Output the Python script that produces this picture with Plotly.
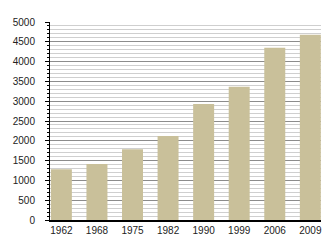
import plotly.graph_objects as go

years = ["1962", "1968", "1975", "1982", "1990", "1999", "2006", "2009"]
values = [1280, 1414, 1785, 2121, 2929, 3366, 4351, 4680]
y_ticks = [0, 500, 1000, 1500, 2000, 2500, 3000, 3500, 4000, 4500, 5000]

bar_color = "#c9c09a"

fig = go.Figure(
    go.Bar(x=years, y=values, marker=dict(color=bar_color, line=dict(width=0)), width=0.59)
)

fig.update_layout(
    width=330, height=250,
    margin=dict(l=50, r=9, t=22, b=30),
    paper_bgcolor="white", plot_bgcolor="white",
    font=dict(family="Liberation Sans, Arial, sans-serif", size=10, color="#222"),
    showlegend=False,
)
fig.update_xaxes(
    type="category", range=[-0.32, 7.3],
    showline=True, linecolor="black", linewidth=1.5,
    ticks="", showgrid=False, ticklabelstandoff=0,
)
fig.update_yaxes(
    range=[0, 5000], tickvals=y_ticks, ticktext=[str(v) for v in y_ticks],
    showline=True, linecolor="black", linewidth=1,
    ticks="outside", ticklen=4, tickcolor="black", tickwidth=1,
    showgrid=True, gridcolor="#8c8c8c", gridwidth=1,
    minor=dict(dtick=100, showgrid=True, gridcolor="#cfcfcf", gridwidth=1,
               ticks="outside", ticklen=2, tickcolor="black"),
    zeroline=False, ticklabelstandoff=8,
)

fig.write_html("out.html")
